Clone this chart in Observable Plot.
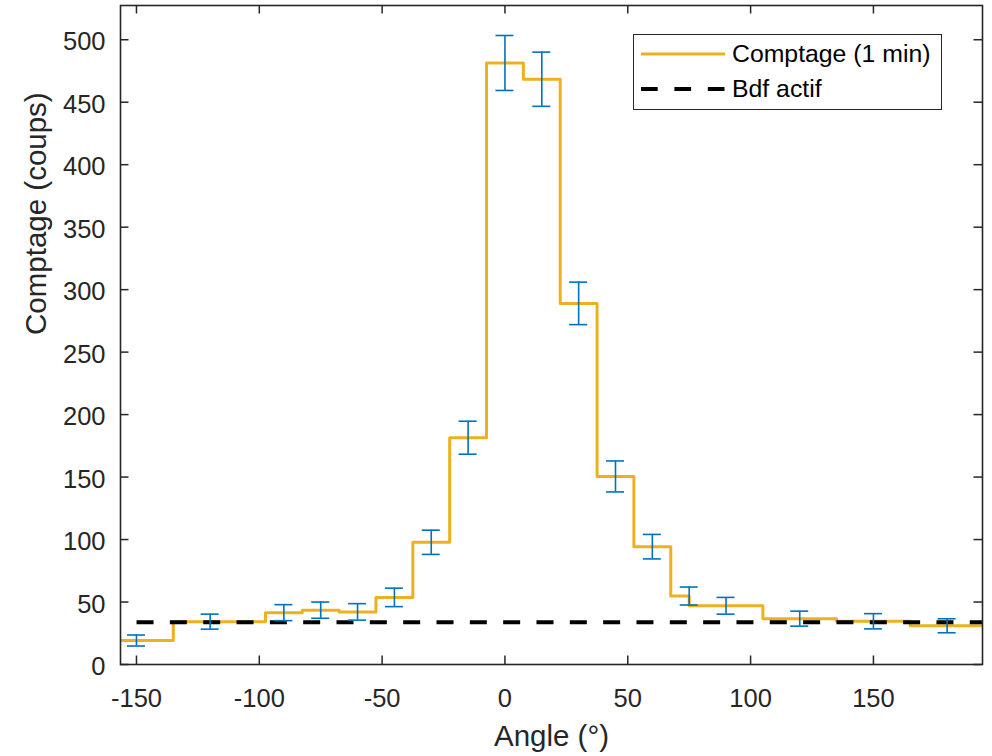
<!DOCTYPE html>
<html>
<head>
<meta charset="utf-8">
<script src="https://cdn.jsdelivr.net/npm/d3@7"></script>
<script src="https://cdn.jsdelivr.net/npm/@observablehq/plot@0.6"></script>
<style>
  body { margin: 0; background: #fff; }
  #wrap { position: relative; width: 992px; height: 756px; font-family: "Liberation Sans", Arial, sans-serif; color: #262626; }
  #legend { position: absolute; left: 633px; top: 34px; width: 309px; height: 76px; box-sizing: border-box;
            border: 1.5px solid #262626; background: #fff; }
  #legend .row { position: absolute; left: 7px; height: 34px; display: flex; align-items: center; }
  #legend .row span { font-size: 24.8px; color: #000; margin-left: 7px; white-space: nowrap; }
</style>
</head>
<body>
<div id="wrap">
  <div id="chart"></div>
  <div id="legend">
    <div class="row" style="top:2px"><svg width="84" height="10"><line x1="0" x2="84" y1="5" y2="5" stroke="#EDB120" stroke-width="3"/></svg><span>Comptage (1 min)</span></div>
    <div class="row" style="top:37px"><svg width="84" height="10"><line x1="0" x2="84" y1="5" y2="5" stroke="#000" stroke-width="4" stroke-dasharray="16.7,16.7"/></svg><span>Bdf actif</span></div>
  </div>
</div>
<script>
// ---- Data ----
const angles    = [-150, -120, -90, -75, -60, -45, -30, -15, 0, 15, 30, 45, 60, 75, 90, 120, 150, 180];
const counts    = [19.2, 34.3, 41.5, 43.5, 42.1, 53.7, 97.8, 181.5, 481.4, 468.4, 289.0, 150.5, 94.3, 54.8, 47.0, 36.7, 34.6, 31.0];
const errors    = [4.4, 6.0, 6.4, 6.5, 6.6, 7.4, 9.7, 13.2, 22.0, 21.7, 17.0, 12.4, 9.8, 7.2, 6.7, 6.0, 6.1, 5.6];
const binWidths = [30, 30, 15, 15, 15, 15, 15, 15, 15, 15, 15, 15, 15, 15, 30, 30, 30, 30];
const bdf = 33.8;
const xTicks = [-150, -100, -50, 0, 50, 100, 150];
const yTicks = [0, 50, 100, 150, 200, 250, 300, 350, 400, 450, 500];
const xDomain = [-156.5, 194.4];
const yDomain = [0, 527.4];

// ---- Derived tables ----
const n = angles.length;
const stairs = angles.map((a, i) => ({x: a - binWidths[i] / 2, y: counts[i]}))
  .concat([{x: angles[n - 1] + binWidths[n - 1] / 2, y: counts[n - 1]}]);
const pts = angles.map((a, i) => ({x: a, c: counts[i], e: errors[i]}));

const W = 992, H = 756, mt = 5, mb = 92, ml = 120, mr = 10;
const plotH = H - mt - mb, plotW = W - ml - mr;
const axisColor = "#262626";
const tickLen = 8.5;

const chart = Plot.plot({
  width: W, height: H,
  marginTop: mt, marginBottom: mb, marginLeft: ml, marginRight: mr,
  style: {fontFamily: '"Liberation Sans", Arial, sans-serif', fontSize: "25px", color: axisColor, background: "#fff"},
  x: {domain: xDomain},
  y: {domain: yDomain},
  marks: [
    Plot.line(stairs, {x: "x", y: "y", curve: "step-after", stroke: "#EDB120", strokeWidth: 3, clip: true}),
    Plot.ruleY([bdf], {stroke: "#000", strokeWidth: 4, strokeDasharray: "17,16.33", strokeDashoffset: 16.8}),
    Plot.ruleX(pts, {x: "x", y1: d => d.c - d.e, y2: d => d.c + d.e, stroke: "#0072BD", strokeWidth: 1.6}),
    Plot.ruleY(pts, {y: d => d.c + d.e, x1: "x", x2: "x", insetLeft: -9, insetRight: -9, stroke: "#0072BD", strokeWidth: 1.6}),
    Plot.ruleY(pts, {y: d => d.c - d.e, x1: "x", x2: "x", insetLeft: -9, insetRight: -9, stroke: "#0072BD", strokeWidth: 1.6}),
    // inward ticks (bottom, top, left, right)
    Plot.tickX(xTicks, {x: d => d, insetTop: plotH - tickLen, stroke: axisColor, strokeWidth: 1.5}),
    Plot.tickX(xTicks, {x: d => d, insetBottom: plotH - tickLen, stroke: axisColor, strokeWidth: 1.5}),
    Plot.tickY(yTicks, {y: d => d, insetRight: plotW - tickLen, stroke: axisColor, strokeWidth: 1.5}),
    Plot.tickY(yTicks, {y: d => d, insetLeft: plotW - tickLen, stroke: axisColor, strokeWidth: 1.5}),
    Plot.frame({stroke: axisColor, strokeWidth: 1.6}),
    Plot.axisX(xTicks, {tickSize: 0, tickPadding: 24, tickFormat: d => String(d), fontSize: 25.5, fill: axisColor, label: null}),
    Plot.axisY(yTicks, {tickSize: 0, tickPadding: 15, tickFormat: d => String(d), fontSize: 25.5, fill: axisColor, dy: 2.5, label: null}),
    Plot.text(["Angle (°)"], {frameAnchor: "bottom", dy: 72, lineAnchor: "middle", fontSize: 29.5, fill: axisColor}),
    Plot.text(["Comptage (coups)"], {frameAnchor: "left", dx: -84, rotate: -90, lineAnchor: "middle", fontSize: 29.5, fill: axisColor})
  ]
});
document.getElementById("chart").appendChild(chart);
</script>
</body>
</html>
